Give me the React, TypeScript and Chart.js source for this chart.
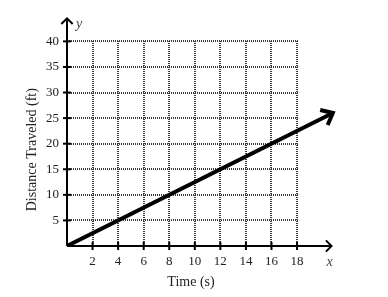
import React, { useEffect, useRef } from "react";
import { Chart, registerables } from "chart.js";

Chart.register(...registerables);

const X_TICKS = [2, 4, 6, 8, 10, 12, 14, 16, 18];
const Y_TICKS = [5, 10, 15, 20, 25, 30, 35, 40];
const X_GRID = [0, 2, 4, 6, 8, 10, 12, 14, 16, 18];
const Y_GRID = [0, 5, 10, 15, 20, 25, 30, 35, 40];
const LINE_X = [0, 20.8];
const LINE_Y = [0, 26];
const X_TITLE = "Time (s)";
const Y_TITLE = "Distance Traveled (ft)";
const X_AXIS_END = 20.7;
const Y_AXIS_END = 44.5;

const SERIF = "'Liberation Serif', 'DejaVu Serif', serif";

function chevron(ctx: CanvasRenderingContext2D, tx: number, ty: number, angle: number, len: number, spread: number) {
  ctx.beginPath();
  ctx.moveTo(tx - len * Math.cos(angle - spread), ty - len * Math.sin(angle - spread));
  ctx.lineTo(tx, ty);
  ctx.lineTo(tx - len * Math.cos(angle + spread), ty - len * Math.sin(angle + spread));
  ctx.stroke();
}

const decorPlugin = {
  id: "decor",
  beforeDatasetsDraw(chart: any) {
    const ctx = chart.ctx as CanvasRenderingContext2D;
    const xs = chart.scales.x;
    const ys = chart.scales.y;
    const x0 = xs.getPixelForValue(0);
    const y0 = ys.getPixelForValue(0);
    const xMax = xs.getPixelForValue(X_GRID[X_GRID.length - 1]);
    const yMax = ys.getPixelForValue(Y_GRID[Y_GRID.length - 1]);
    ctx.save();
    // grid
    ctx.strokeStyle = "#3a3a3a";
    ctx.lineWidth = 2;
    ctx.setLineDash([1, 1]);
    for (const v of X_GRID) {
      if (v === 0) continue;
      const px = Math.round(xs.getPixelForValue(v));
      ctx.beginPath();
      ctx.moveTo(px, y0);
      ctx.lineTo(px, yMax - 1);
      ctx.stroke();
    }
    for (const v of Y_GRID) {
      if (v === 0) continue;
      const py = Math.round(ys.getPixelForValue(v));
      ctx.beginPath();
      ctx.moveTo(x0, py);
      ctx.lineTo(xMax + 1, py);
      ctx.stroke();
    }
    ctx.setLineDash([]);
    // axes
    ctx.strokeStyle = "#000";
    ctx.lineWidth = 2;
    const xEnd = xs.getPixelForValue(X_AXIS_END);
    const yEnd = ys.getPixelForValue(Y_AXIS_END);
    ctx.beginPath();
    ctx.moveTo(x0, y0);
    ctx.lineTo(xEnd, y0);
    ctx.moveTo(x0, y0);
    ctx.lineTo(x0, yEnd);
    ctx.stroke();
    chevron(ctx, xEnd, y0, 0, 8, Math.PI / 4);
    chevron(ctx, x0, yEnd, -Math.PI / 2, 8, Math.PI / 4);
    // tick marks
    for (const v of X_TICKS) {
      const px = xs.getPixelForValue(v);
      ctx.beginPath();
      ctx.moveTo(px, y0 - 4);
      ctx.lineTo(px, y0 + 4);
      ctx.stroke();
    }
    for (const v of Y_TICKS) {
      const py = ys.getPixelForValue(v);
      ctx.beginPath();
      ctx.moveTo(x0 - 4, py);
      ctx.lineTo(x0 + 4, py);
      ctx.stroke();
    }
    // axis letters
    ctx.fillStyle = "#444";
    ctx.font = `italic 14px ${SERIF}`;
    ctx.textAlign = "center";
    ctx.textBaseline = "middle";
    ctx.fillText("y", x0 + 12, yEnd + 6);
    ctx.fillText("x", xEnd - 2, y0 + 16);
    // titles
    ctx.fillStyle = "#222";
    ctx.font = `14px ${SERIF}`;
    ctx.fillText(X_TITLE, (x0 + xMax) / 2 + 9, y0 + 36);
    ctx.save();
    ctx.translate(32, (y0 + yMax) / 2 + 6);
    ctx.rotate(-Math.PI / 2);
    ctx.fillText(Y_TITLE, 0, 0);
    ctx.restore();
    ctx.restore();
  },
  afterDatasetsDraw(chart: any) {
    const ctx = chart.ctx as CanvasRenderingContext2D;
    const xs = chart.scales.x;
    const ys = chart.scales.y;
    const n = LINE_X.length;
    const ax = xs.getPixelForValue(LINE_X[n - 2]);
    const ay = ys.getPixelForValue(LINE_Y[n - 2]);
    const bx = xs.getPixelForValue(LINE_X[n - 1]);
    const by = ys.getPixelForValue(LINE_Y[n - 1]);
    const ang = Math.atan2(by - ay, bx - ax);
    ctx.save();
    ctx.strokeStyle = "#000";
    ctx.lineWidth = 4;
    ctx.lineJoin = "miter";
    chevron(ctx, bx, by, ang, 13, Math.PI / 4.5);
    ctx.restore();
  },
};

export default function App() {
  const ref = useRef<HTMLCanvasElement | null>(null);
  useEffect(() => {
    document.body.style.margin = "0";
    const canvas = ref.current!;
    const chart = new Chart(canvas, {
      type: "scatter",
      data: {
        datasets: [
          {
            data: LINE_X.map((x, i) => ({ x, y: LINE_Y[i] })),
            showLine: true,
            borderColor: "#000",
            borderWidth: 4,
            pointRadius: 0,
            borderCapStyle: "butt",
          },
        ],
      },
      options: {
        animation: false,
        responsive: false,
        layout: { padding: { top: 15.6, right: 52.6, left: 0, bottom: 0 } },
        plugins: { legend: { display: false }, tooltip: { enabled: false } },
        scales: {
          x: {
            type: "linear",
            min: 0,
            max: 21,
            border: { display: false },
            grid: { display: false, drawTicks: false },
            afterBuildTicks: (s: any) => {
              s.ticks = X_TICKS.map((v) => ({ value: v }));
            },
            afterFit: (s: any) => {
              s.height = 51;
            },
            ticks: {
              padding: 8,
              color: "#222",
              font: { family: SERIF, size: 13 },
              maxRotation: 0,
              autoSkip: false,
            },
          },
          y: {
            type: "linear",
            min: 0,
            max: 45,
            border: { display: false },
            grid: { display: false, drawTicks: false },
            afterBuildTicks: (s: any) => {
              s.ticks = Y_TICKS.map((v) => ({ value: v }));
            },
            afterFit: (s: any) => {
              s.width = 67;
            },
            ticks: {
              padding: 8,
              color: "#222",
              font: { family: SERIF, size: 13 },
              autoSkip: false,
            },
          },
        },
      },
      plugins: [decorPlugin],
    });
    return () => chart.destroy();
  }, []);
  return <canvas ref={ref} width={388} height={297} style={{ display: "block" }} />;
}
